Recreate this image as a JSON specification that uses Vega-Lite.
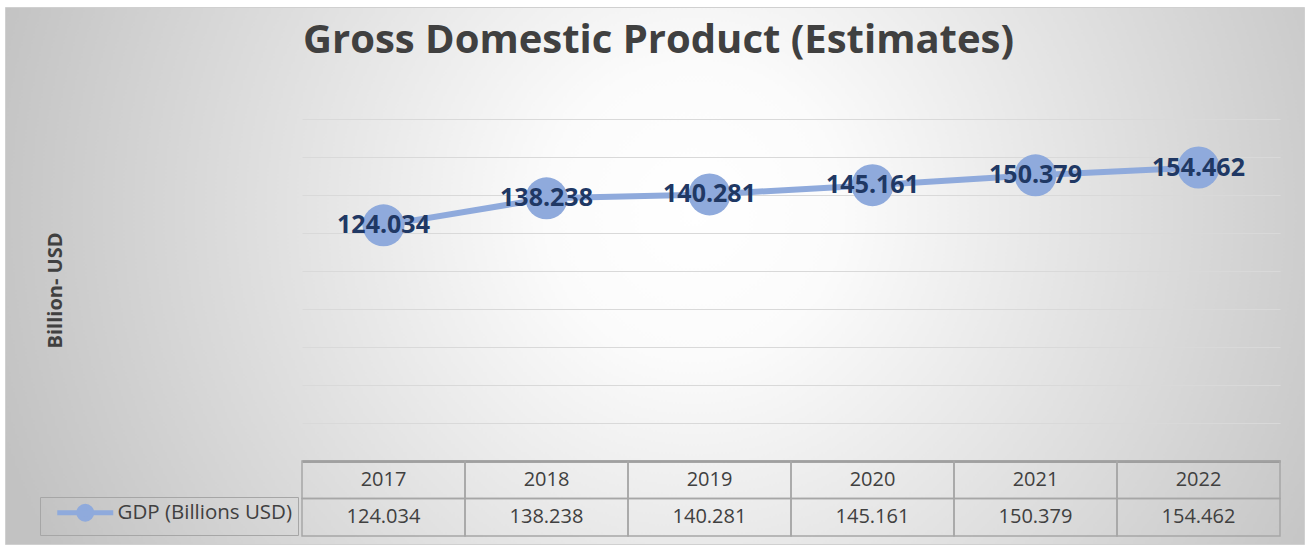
{
  "$schema": "https://vega.github.io/schema/vega-lite/v6.json",
  "width": 1306,
  "height": 546,
  "autosize": {"type": "fit", "contains": "padding"},
  "padding": {"left": 5, "top": 7, "right": 2, "bottom": 2},
  "background": "white",
  "view": {
    "fill": {
      "gradient": "radial",
      "x1": 0.53, "y1": 0.45, "r1": 0,
      "x2": 0.53, "y2": 0.45, "r2": 0.56,
      "stops": [
        {"offset": 0, "color": "#ffffff"},
        {"offset": 0.2, "color": "#fbfbfb"},
        {"offset": 1, "color": "#c2c2c2"}
      ]
    },
    "stroke": "#d0d0d0",
    "strokeWidth": 1
  },
  "title": {
    "text": "Gross Domestic Product (Estimates)",
    "font": "Open Sans",
    "fontSize": 40,
    "fontWeight": "bold",
    "color": "#404040",
    "anchor": "middle",
    "offset": -86,
    "baseline": "alphabetic",
    "dx": 4
  },
  "data": {
    "values": [
      {"year": "2017", "gdp": 124.034},
      {"year": "2018", "gdp": 138.238},
      {"year": "2019", "gdp": 140.281},
      {"year": "2020", "gdp": 145.161},
      {"year": "2021", "gdp": 150.379},
      {"year": "2022", "gdp": 154.462}
    ]
  },
  "layer": [
    {
      "encoding": {
        "x": {"field": "year", "type": "nominal", "scale": {"type": "band", "range": [297, 1275], "paddingInner": 0, "paddingOuter": 0}, "axis": null},
        "y": {
          "field": "gdp", "type": "quantitative",
          "scale": {"domain": [0, 180], "range": [454, 112], "nice": false},
          "axis": {
            "values": [0, 20, 40, 60, 80, 100, 120, 140, 160, 180],
            "grid": true, "labels": false, "ticks": false, "domain": false,
            "minExtent": 0, "maxExtent": 0,
            "title": "Billion- USD",
            "titleX": 50, "titleY": 283, "titleAngle": 270,
            "titleAlign": "center", "titleBaseline": "middle",
            "titleFont": "Open Sans", "titleFontSize": 20, "titleFontWeight": "bold", "titleColor": "#404040",
            "gridColor": {"condition": {"test": "datum.value === 0", "value": "#8c8c8c"}, "value": "#d9d9d9"},
            "gridWidth": {"condition": {"test": "datum.value === 0", "value": 2.5}, "value": 1.2}
          }
        }
      },
      "layer": [
        {
          "mark": {"type": "line", "strokeWidth": 6},
          "encoding": {
            "stroke": {
              "datum": "GDP (Billions USD)", "type": "nominal",
              "scale": {"range": ["#8faadc"]},
              "legend": {
                "orient": "none", "legendX": 35, "legendY": 490,
                "title": null, "padding": 5.5, "strokeColor": "#a6a6a6",
                "symbolType": "M-4,0L4,0M-0.93,0A0.93,0.93,0,1,0,0.93,0A0.93,0.93,0,1,0,-0.93,0Z",
                "symbolSize": 196, "symbolStrokeWidth": 5, "symbolOffset": 29.5,
                "symbolFillColor": "#8faadc", "symbolStrokeColor": "#8faadc",
                "labelFont": "Open Sans", "labelFontSize": 20.5, "labelColor": "#404040",
                "labelLimit": 400, "labelOffset": 22,
                "encode": {"symbols": {"update": {"fill": {"value": "#8faadc"}, "stroke": {"value": "#8faadc"}, "strokeWidth": {"value": 5}, "opacity": {"value": 1}}}}
              }
            }
          }
        },
        {
          "mark": {"type": "point", "filled": true, "size": 1764, "opacity": 1, "color": "#8faadc"}
        },
        {
          "mark": {"type": "text", "font": "Open Sans", "fontSize": 25, "fontWeight": "bold", "color": "#203864", "baseline": "middle", "align": "center"},
          "encoding": {"text": {"field": "gdp", "type": "quantitative", "format": ".3f"}}
        }
      ]
    },
    {
      "encoding": {
        "x": {"field": "year", "type": "nominal", "scale": {"type": "band", "range": [297, 1275], "paddingInner": 0, "paddingOuter": 0}, "axis": null}
      },
      "layer": [
        {
          "mark": {"type": "rect", "fillOpacity": 0, "stroke": "#a6a6a6", "strokeWidth": 1.5},
          "encoding": {"y": {"datum": "h", "type": "nominal", "scale": {"type": "band", "domain": ["h", "v"], "range": [454, 529], "paddingInner": 0, "paddingOuter": 0}, "axis": null}}
        },
        {
          "mark": {"type": "rect", "fillOpacity": 0, "stroke": "#a6a6a6", "strokeWidth": 1.5},
          "encoding": {"y": {"datum": "v", "type": "nominal"}}
        },
        {
          "mark": {"type": "text", "font": "Open Sans", "fontSize": 20, "color": "#404040", "baseline": "middle", "align": "center"},
          "encoding": {"y": {"datum": "h", "type": "nominal"}, "text": {"field": "year", "type": "nominal"}}
        },
        {
          "mark": {"type": "text", "font": "Open Sans", "fontSize": 20, "color": "#404040", "baseline": "middle", "align": "center"},
          "encoding": {"y": {"datum": "v", "type": "nominal"}, "text": {"field": "gdp", "type": "quantitative", "format": ".3f"}}
        }
      ]
    }
  ],
  "resolve": {"scale": {"y": "independent"}}
}
